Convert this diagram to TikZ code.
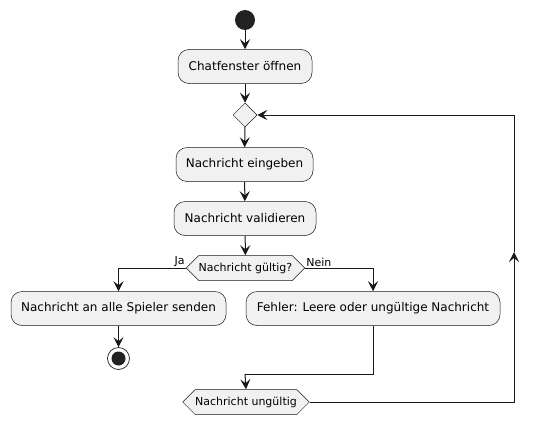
\documentclass[tikz,border=0pt]{standalone}
\usepackage{fontspec}
\setmainfont{DejaVu Sans}
\usetikzlibrary{arrows.meta,shapes.geometric,shapes.symbols}

\definecolor{umlfill}{HTML}{F1F1F1}
\definecolor{umlline}{HTML}{181818}
\definecolor{umldot}{HTML}{222222}

\tikzset{
  action/.style={draw=umlline, line width=0.5pt, fill=umlfill, rounded corners=11pt,
    minimum height=34pt, inner sep=0pt, font=\fontsize{12}{14}\selectfont},
  choice/.style={draw=umlline, line width=0.5pt, fill=umlfill, signal, signal to=west and east,
    signal pointer angle=90, minimum height=25pt, inner sep=0pt, font=\fontsize{11}{13}\selectfont},
  flow/.style={draw=umlline, line width=1pt, -{Stealth[length=10pt,width=10pt,inset=4pt]}},
  plain/.style={draw=umlline, line width=1pt},
  guard/.style={font=\fontsize{11}{13}\selectfont, inner sep=1pt}
}

\begin{document}
\begin{tikzpicture}[x=1pt,y=-1pt]
            \useasboundingbox (0,0) rectangle (537,420);

            % Start und Ende:
            \node (start) at (245,20)[circle,fill=umldot,inner sep=0pt,minimum size=20pt]{};
            \node (stop) at (118.5,358.5)[circle,draw=umldot,fill=white,line width=0.7pt,inner sep=0pt,minimum size=22pt]{};
            \node at (stop)[circle,fill=umldot,inner sep=0pt,minimum size=14pt]{};

            % Aktionen:
            \node (open) at (245,66.5)[action,minimum width=134pt]{Chatfenster öffnen};
            \node (loop) at (245,115)[diamond,draw=umlline,line width=0.5pt,fill=umlfill,inner sep=0pt,minimum size=24pt]{};
            \node (enter) at (244.5,164.5)[action,minimum width=137pt]{Nachricht eingeben};
            \node (check) at (245,218.5)[action,minimum width=142pt]{Nachricht validieren};
            \node (valid) at (245.5,268)[choice,minimum width=117pt]{Nachricht gültig?};
            \node (send) at (118.5,308.5)[action,minimum width=215pt]{Nachricht an alle Spieler senden};
            \node (error) at (373,308.5)[action,minimum width=254pt]{Fehler: Leere oder ungültige Nachricht};
            \node (merge) at (246,402)[choice,minimum width=126pt]{Nachricht ungültig};

            \coordinate (joint) at (245,374);
            \coordinate (up) at (514,252);

            % Pfeile:
            \draw[flow] (start) -- (open);
            \draw[flow] (open) -- (loop);
            \draw[flow] (loop) -- (enter);
            \draw[flow] (enter) -- (check);
            \draw[flow] (check) -- (valid);
            \draw[flow] (valid.west) -| (send.north);
            \draw[flow] (valid.east) -| (error.north);
            \draw[flow] (send) -- (stop);
            \draw[plain] (error.south) |- (joint);
            \draw[flow] (joint) -- (merge.north);
            \draw[flow] (merge.east) -| (up);
            \draw[flow] (up) |- (loop.east);

            % Bedingungen:
            \node (yes) at (valid.west)[guard,anchor=south east]{Ja};
            \node (no) at (valid.east)[guard,anchor=south west]{Nein};

      \end{tikzpicture}
\end{document}
